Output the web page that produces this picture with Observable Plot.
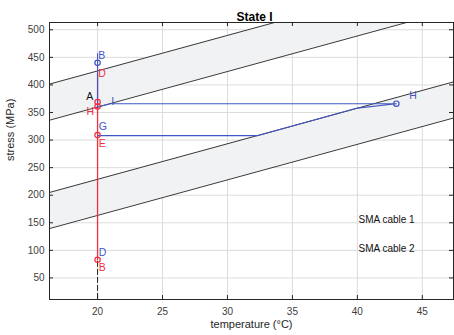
<!DOCTYPE html>
<html><head><meta charset="utf-8">
<script src="https://cdn.jsdelivr.net/npm/d3@7"></script>
<script src="https://cdn.jsdelivr.net/npm/@observablehq/plot@0.6"></script>
<style>body{margin:0;background:#fff;} svg{display:block;}</style>
</head><body><div id="chart"></div>
<script>
// ---- data ----
const xTicks = [20, 25, 30, 35, 40, 45];
const yTicks = [50, 100, 150, 200, 250, 300, 350, 400, 450, 500];
const bandT = [16.3, 47.4];
const upperTop = [401.5, 602];
const upperBottom = [336, 536.5];
const lowerTop = [205, 405.5];
const lowerBottom = [139.5, 340];

// SMA cable 1 (blue) path
const c1T = [20, 20, 21, 43, 40, 32.3, 20];
const c1S = [457, 360, 366, 366, 358, 308, 308];
const c1MarkT = [20, 43];
const c1MarkS = [440, 366];
const c1LabT = [20.05, 21.05, 44.0, 20.1, 20.1];
const c1LabS = [453, 370, 381, 325, 96];
const c1Lab = ["B", "I", "H", "G", "D"];

// SMA cable 2 (red) path
const c2T = [20, 20];
const c2S = [420, 83];
const c2MarkT = [20, 20, 20, 20];
const c2MarkS = [369, 361, 309, 83];
const c2LabT = [20.05, 19.15, 20.1, 20.1];
const c2LabS = [420, 352, 293, 68];
const c2Lab = ["D", "H", "E", "B"];

// black annotations
const blackT = [20, 20];
const blackS = [80, 10];
const aLabT = [19.13];
const aLabS = [379];
const aLab = ["A"];

const legendLabels = ["SMA cable 1", "SMA cable 2"];
const titleText = "State I";
const xLabel = "temperature (°C)";
const yLabel = "stress (MPa)";

// ---- layout ----
const W = 454, H = 335, mL = 49, mR = 1, mT = 22, mB = 36;
const fw = W - mL - mR, fh = H - mT - mB;
const blue = "#4157c4", red = "#f0303f", dark = "#262626";

const band = (hi, lo) => bandT.map((t, i) => ({t, hi: hi[i], lo: lo[i]}));
const pts = (T, S) => T.map((t, i) => ({t, s: S[i]}));
const labs = (T, S, L) => T.map((t, i) => ({t, s: S[i], l: L[i]}));

const chart = Plot.plot({
  width: W, height: H,
  marginLeft: mL, marginRight: mR, marginTop: mT, marginBottom: mB,
  style: {fontFamily: "'Liberation Sans', Arial, sans-serif", fontSize: "10px", color: "#404040", background: "#fff", overflow: "visible"},
  x: {domain: [16.3, 47.4], ticks: xTicks, tickSize: 0, tickPadding: 8, label: null},
  y: {domain: [10.9, 513.2], ticks: yTicks, tickSize: 0, tickPadding: 5, label: null},
  marks: [
    Plot.gridX(xTicks, {stroke: "#dcdcdc", strokeOpacity: 1}),
    Plot.gridY(yTicks, {stroke: "#dcdcdc", strokeOpacity: 1}),
    Plot.areaY(band(upperTop, upperBottom), {x: "t", y1: "lo", y2: "hi", fill: "#f1f2f4", clip: true}),
    Plot.areaY(band(lowerTop, lowerBottom), {x: "t", y1: "lo", y2: "hi", fill: "#f1f2f4", clip: true}),
    ...[upperTop, upperBottom, lowerTop, lowerBottom].map(arr =>
      Plot.line(pts(bandT, arr), {x: "t", y: "s", stroke: "#222", strokeWidth: 0.9, clip: true})),
    Plot.line(pts(blackT, blackS), {x: "t", y: "s", stroke: "#222", strokeDasharray: "5,3", strokeWidth: 1}),
    Plot.line(pts(c2T, c2S), {x: "t", y: "s", stroke: red, strokeWidth: 1.3}),
    Plot.line(pts(c1T, c1S), {x: "t", y: "s", stroke: blue, strokeWidth: 1.1}),
    Plot.dot(pts(c2MarkT, c2MarkS), {x: "t", y: "s", r: 2.7, stroke: red, strokeWidth: 1.2}),
    Plot.dot(pts(c1MarkT, c1MarkS), {x: "t", y: "s", r: 2.7, stroke: blue, strokeWidth: 1.2}),
    Plot.text(labs(c1LabT, c1LabS, c1Lab), {x: "t", y: "s", text: "l", fill: blue, textAnchor: "start", fontSize: 10.5}),
    Plot.text(labs(c2LabT, c2LabS, c2Lab), {x: "t", y: "s", text: "l", fill: red, textAnchor: "start", fontSize: 10.5}),
    Plot.text(labs(aLabT, aLabS, aLab), {x: "t", y: "s", text: "l", fill: "#111", textAnchor: "start", fontSize: 10.5}),
    // inward ticks
    Plot.tickY(yTicks, {y: d => d, insetRight: fw - 4, stroke: dark}),
    Plot.tickY(yTicks, {y: d => d, insetLeft: fw - 4, stroke: dark}),
    Plot.tickX(xTicks, {x: d => d, insetTop: fh - 4, stroke: dark}),
    Plot.tickX(xTicks, {x: d => d, insetBottom: fh - 4, stroke: dark}),
    Plot.frame({stroke: dark, strokeWidth: 1}),
    // legend
    Plot.text([legendLabels[0]], {frameAnchor: "bottom-right", dx: -95, dy: -77, textAnchor: "start", fill: "#111", fontSize: 10}),
    Plot.text([legendLabels[1]], {frameAnchor: "bottom-right", dx: -95, dy: -48, textAnchor: "start", fill: "#111", fontSize: 10}),
    // titles
    Plot.text([titleText], {frameAnchor: "top", dx: 3, dy: -10, fontWeight: "bold", fontSize: 12, fill: "#000"}),
    Plot.text([xLabel], {frameAnchor: "bottom", dy: 28, fontSize: 11, fill: "#262626"}),
    Plot.text([yLabel], {frameAnchor: "left", dx: -39, rotate: -90, fontSize: 11, fill: "#262626"})
  ]
});
document.getElementById("chart").appendChild(chart);
</script>
</body></html>
